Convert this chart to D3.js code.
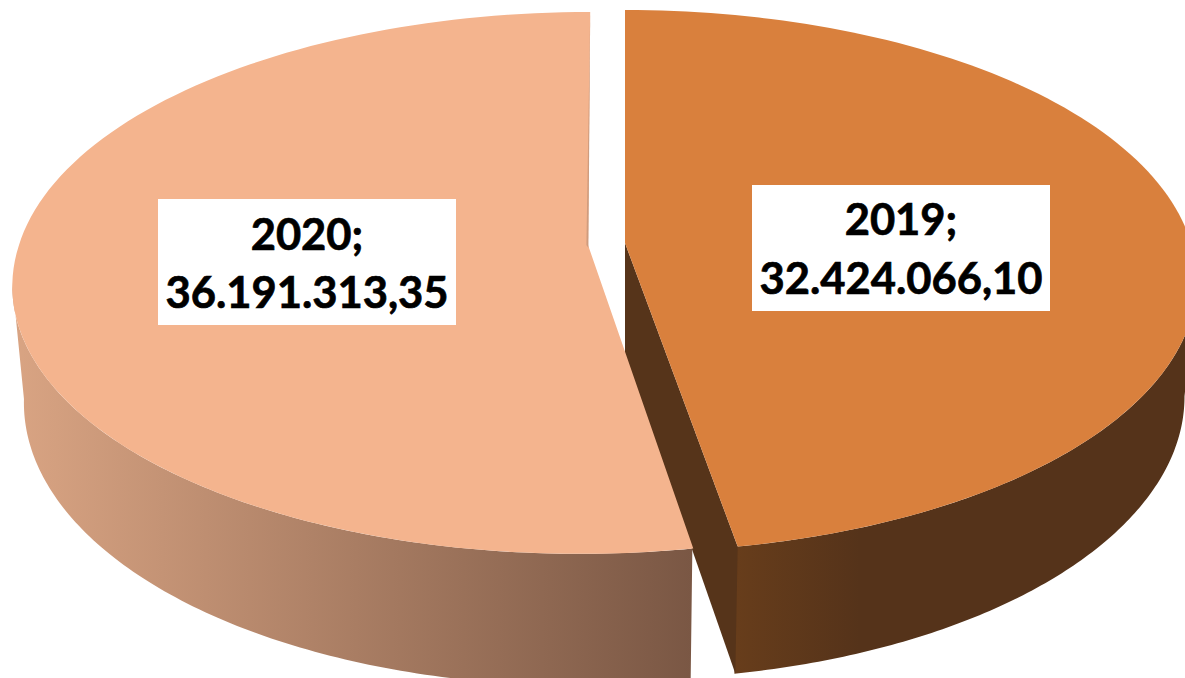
<!DOCTYPE html>
<html>
<head>
<meta charset="utf-8">
<script src="https://d3js.org/d3.v7.min.js"></script>
<style>
	html, body { margin: 0; background: #fff; overflow: hidden; }
	svg { display: block; }
	text { font-family: Lato, "Noto Sans", sans-serif; font-weight: 700; fill: #000; stroke: #000; stroke-width: 0.7px; }
</style>
</head>
<body>
<div id="viz"></div>
<script>
// data
var years = ["2019", "2020"];
var amounts = [32424066.10, 36191313.35];

var width = 1185, height = 678;

// 3d look of each slice: top face + bottom face, p is the perspective
var p = 0.14;
var look = {
	"2019": { top: {x: 625, y: 243, rx: 566, ry: 265.6, skew: 0}, bottom: {x: 625, y: 357, rx: 554, ry: 277, skew: 0},
		face: "#d9803d", inner: "#56341a", wall: ["#673d1b", "#55331a"], wallX: [737, 860], wallAngles: [98, 170.2] },
	"2020": { top: {x: 588, y: 245, rx: 569, ry: 265.6, skew: -7}, bottom: {x: 588.5, y: 359, rx: 558, ry: 281, skew: -7},
		face: "#f4b48e", inner: "#cf9c7e", wall: ["#d9a483", "#7a5744"], wallX: [13, 692], wallAngles: [170.2, 262] }
};

// d3 locale for 36.191.313,35
var fmt = d3.formatLocale({ decimal: ",", thousands: ".", grouping: [3], currency: ["", ""] }).format(",.2f");

var svg = d3.select("#viz").append("svg").attr("width", width).attr("height", height);
var defs = svg.append("defs");

// angle (radians, 0 = back of the pie, clockwise) to screen point
function project(a, f) {
	var u = Math.sin(a), v = -Math.cos(a), w = 1 - p * v;
	var s = v < 0 ? f.skew * 0.36 : f.skew;
	return [f.x + (f.rx * u + s * v) / w, f.y + f.ry * v / w];
}

function arcPoints(a0, a1, f) {
	var n = 120;
	return d3.range(n + 1).map(function(i) {
		return project(a0 + (a1 - a0) * i / n, f);
	});
}

var line = d3.line();
var rad = d3.scaleLinear().domain([0, 360]).range([0, 2 * Math.PI]);

var pie = d3.pie().sort(null).value(function(d) { return d.value; });
var slices = pie(years.map(function(y, i) { return { year: y, value: amounts[i] }; }));

// label boxes and baselines
var labels = {
	"2019": { x: 752, y: 185, w: 298, h: 126, base: [235, 294] },
	"2020": { x: 158, y: 199, w: 298, h: 126, base: [250, 308] }
};

slices.forEach(function(s) {
	var l = look[s.data.year];
	var g = svg.append("g");

	var id = "wall" + s.data.year;
	var grad = defs.append("linearGradient").attr("id", id)
		.attr("gradientUnits", "userSpaceOnUse")
		.attr("x1", l.wallX[0]).attr("x2", l.wallX[1]).attr("y1", 0).attr("y2", 0);
	grad.append("stop").attr("offset", 0).attr("stop-color", l.wall[0]);
	grad.append("stop").attr("offset", 1).attr("stop-color", l.wall[1]);

	// outer wall
	var w0 = rad(l.wallAngles[0]), w1 = rad(l.wallAngles[1]);
	g.append("path")
		.attr("d", line(arcPoints(w0, w1, l.top).concat(arcPoints(w1, w0, l.bottom))) + "Z")
		.attr("fill", "url(#" + id + ")");

	// cut wall of the slice
	if (s.data.year == "2019") {
		g.append("path")
			.attr("d", line([[l.top.x, l.top.y], project(s.endAngle, l.top), project(s.endAngle, l.bottom), [l.bottom.x, l.bottom.y]]) + "Z")
			.attr("fill", l.inner);
	}

	// top face
	g.append("path")
		.attr("d", line([[l.top.x, l.top.y]].concat(arcPoints(s.startAngle, s.endAngle, l.top))) + "Z")
		.attr("fill", l.face);

	// thin wall seen on the back cut
	if (s.data.year == "2020") {
		var e = project(s.endAngle, l.top);
		g.append("path")
			.attr("d", line([e, [l.top.x - 1.6, l.top.y], [l.top.x + 0.4, l.top.y + 3]]) + "Z")
			.attr("fill", l.inner);
	}
});

// labels on top of everything
slices.forEach(function(s) {
	var b = labels[s.data.year];
	svg.append("rect").attr("x", b.x).attr("y", b.y).attr("width", b.w).attr("height", b.h).attr("fill", "#fff");
	[s.data.year + ";", fmt(s.data.value)].forEach(function(t, i) {
		svg.append("text")
			.attr("x", b.x + b.w / 2)
			.attr("y", b.base[i])
			.attr("text-anchor", "middle")
			.style("font-size", "43.5px")
			.text(t);
	});
});
</script>
</body>
</html>
